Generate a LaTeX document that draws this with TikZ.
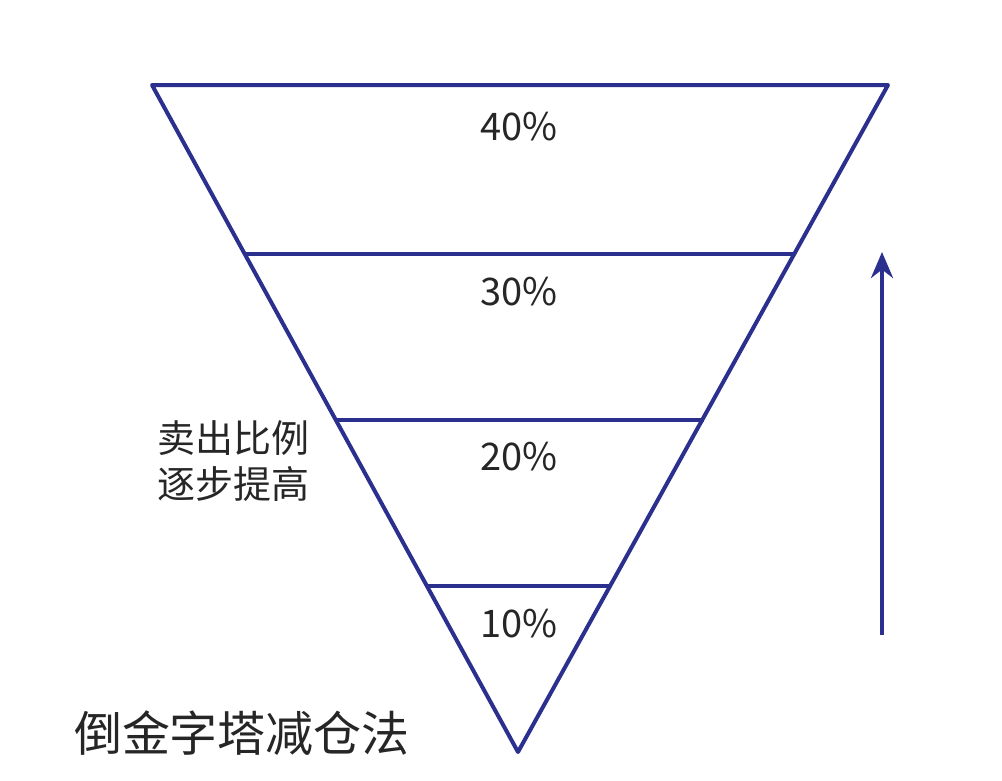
\documentclass[tikz,border=0pt]{standalone}
\usepackage{fontspec}
\setmainfont{Noto Sans CJK SC}
\usetikzlibrary{arrows.meta}
\definecolor{navy}{HTML}{2B2F8E}
\begin{document}
\begin{tikzpicture}[x=1pt,y=-1pt,
  ln/.style={draw=navy,line width=4pt,line join=round},
  pct/.style={font=\fontsize{38}{42}\selectfont,text=black!85}]
\useasboundingbox (0,0) rectangle (1002,780);
\coordinate (tl) at (152,85); \coordinate (tr) at (888,85); \coordinate (b) at (518,752);
\draw[ln] (tl) -- (tr) -- (b) -- cycle;
\coordinate (l1) at (245,254); \coordinate (r1) at (795,254);
\coordinate (l2) at (336,420); \coordinate (r2) at (704,420);
\coordinate (l3) at (428,586); \coordinate (r3) at (611,586);
\draw[ln] (l1) -- (r1); \draw[ln] (l2) -- (r2); \draw[ln] (l3) -- (r3);
\node[pct] (p40) at (519,127) {40\%};
\node[pct] (p30) at (519,292) {30\%};
\node[pct] (p20) at (519,457) {20\%};
\node[pct] (p10) at (519,624) {10\%};
\coordinate (a0) at (882,635); \coordinate (a1) at (882,252);
\draw[navy,line width=4pt,-{Stealth[length=26pt,width=22pt]}] (a0) -- (a1);
\node[font=\fontsize{38}{46}\selectfont,align=left,text=black!85] (side) at (233,461) {卖出比例\\逐步提高};
\node[font=\fontsize{48}{52}\selectfont,text=black!85] (title) at (242,733) {倒金字塔减仓法};
\end{tikzpicture}
\end{document}
